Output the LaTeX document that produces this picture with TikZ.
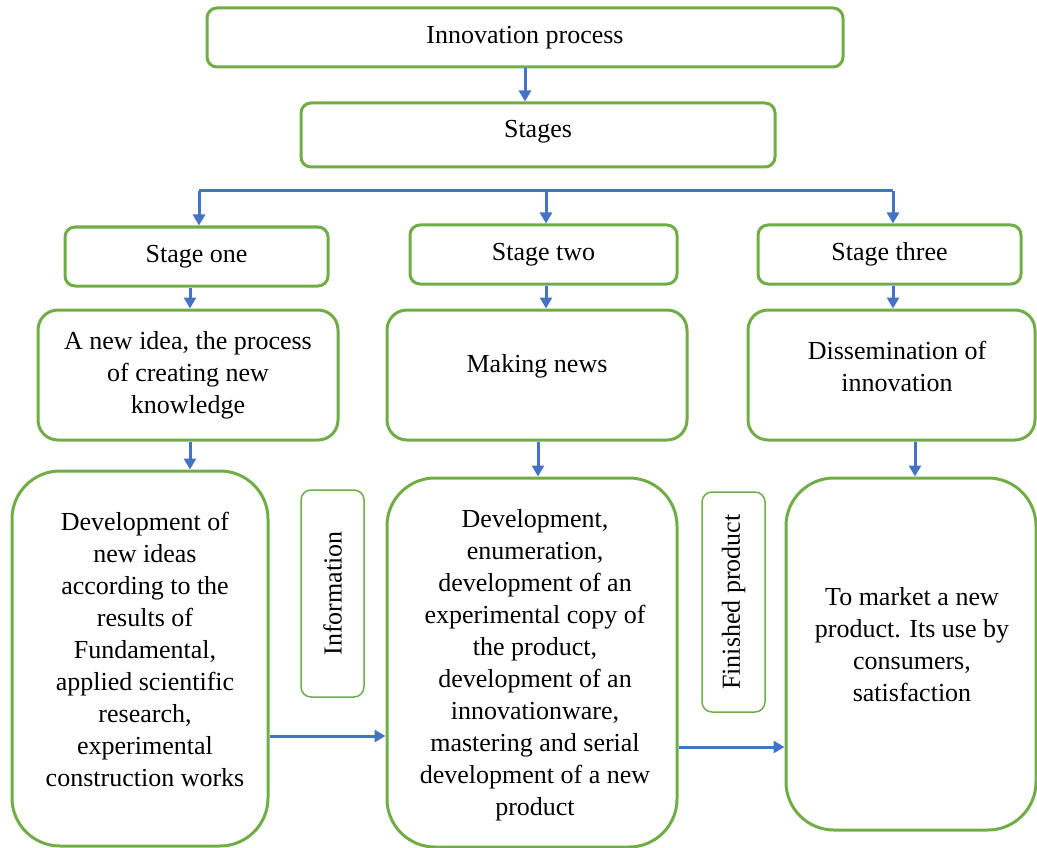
\documentclass[tikz,border=0pt]{standalone}
\usepackage{fontspec}
\setmainfont{Liberation Serif}
\usetikzlibrary{arrows.meta}
\definecolor{boxgreen}{RGB}{112,173,71}
\definecolor{arrblue}{RGB}{68,114,196}
\begin{document}
\begin{tikzpicture}[x=1pt,y=-1pt,
  box/.style={draw=boxgreen, line width=3pt, rounded corners=#1, inner sep=0pt, align=center, font=\fontsize{26}{32}\selectfont},
  box/.default=10pt,
  txt/.style={inner sep=0pt, align=center, font=\fontsize{26}{32}\selectfont},
  tag/.style={draw=boxgreen, line width=1.5pt, rounded corners=10pt, rotate=90, inner sep=0pt, font=\fontsize{26}{32}\selectfont},
  arr/.style={draw=arrblue, line width=3pt, -{Triangle[length=11pt,width=12pt]}},
  bus/.style={draw=arrblue, line width=3pt}]
\useasboundingbox (0,0) rectangle (1037,848);

% top levels
\node[box, minimum width=636pt, minimum height=59pt] (top) at (525,37.5) {Innovation process};
\node[box, minimum width=474pt, minimum height=64pt] (stages) at (538,135) {};
\node[txt] (tstages) at (538,132) {Stages};

% stage boxes
\node[box, minimum width=263pt, minimum height=59pt] (s1) at (196.5,256.5) {Stage one};
\node[box, minimum width=267pt, minimum height=59pt] (s2) at (543.5,254.5) {Stage two};
\node[box, minimum width=263pt, minimum height=59pt] (s3) at (889.5,254.5) {Stage three};

% second level
\node[box=20pt, minimum width=300pt, minimum height=130pt] (A) at (188,375) {A new idea, the process\\of creating new\\knowledge};
\node[box=20pt, minimum width=300pt, minimum height=130pt] (B) at (537,375) {};
\node[txt] (tB) at (537,366) {Making news};
\node[box=20pt, minimum width=287pt, minimum height=130pt] (C) at (891.5,375) {};
\node[txt] (tC) at (897,366) {Dissemination of\\innovation};

% third level
\node[box=48pt, minimum width=256pt, minimum height=375pt] (D) at (140,658.5) {};
\node[txt] (tD) at (145,649) {Development of\\new ideas\\according to the\\results of\\Fundamental,\\applied scientific\\research,\\experimental\\construction works};
\node[tag, minimum width=207pt, minimum height=63pt] (info) at (332.5,593.5) {Information};
\node[box=48pt, minimum width=290pt, minimum height=369pt] (E) at (532,662.5) {};
\node[txt] (tE) at (535,665) {Development,\\enumeration,\\development of an\\experimental copy of\\the product,\\development of an\\innovationware,\\mastering and serial\\development of a new\\product};
\node[tag, minimum width=220pt, minimum height=63pt] (fp) at (733.5,602) {Finished product};
\node[box=48pt, minimum width=250pt, minimum height=352pt] (F) at (911,654) {};
\node[txt] (tF) at (912,645) {To market a new\\product. Its use by\\consumers,\\satisfaction};

% helper coordinates
\coordinate (v1) at (199,191);
\coordinate (v2) at (546,191);
\coordinate (v3) at (893,191);
\coordinate (c1) at (190,0);
\coordinate (c2) at (538,0);
\coordinate (c3) at (915,0);
\coordinate (h1) at (0,736);
\coordinate (h2) at (0,747);

% connectors
\draw[arr] (top.south) -- (top.south |- stages.north);
\draw[bus] (v1) -- (v3);
\draw[arr] (v1) -- (s1.north -| v1);
\draw[arr] (v2) -- (s2.north -| v2);
\draw[arr] (v3) -- (s3.north -| v3);
\draw[arr] (s1.south -| c1) -- (A.north -| c1);
\draw[arr] (s2.south -| v2) -- (B.north -| v2);
\draw[arr] (s3.south -| v3) -- (C.north -| v3);
\draw[arr] (A.south -| c1) -- (D.north -| c1);
\draw[arr] (B.south -| c2) -- (E.north -| c2);
\draw[arr] (C.south -| c3) -- (F.north -| c3);
\draw[arr] (D.east |- h1) -- (E.west |- h1);
\draw[arr] (E.east |- h2) -- (F.west |- h2);
\end{tikzpicture}
\end{document}
